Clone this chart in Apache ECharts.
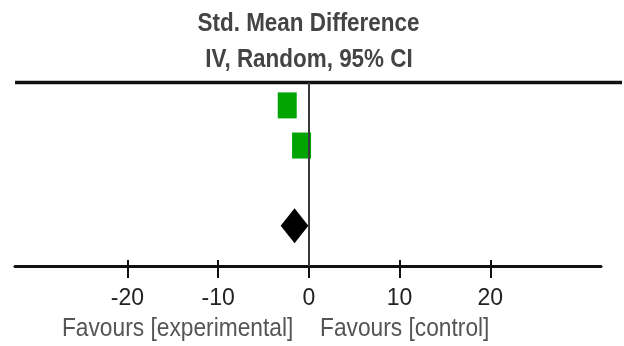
<!DOCTYPE html>
<html>
<head>
<meta charset="utf-8">
<script src="https://cdn.jsdelivr.net/npm/echarts@6/dist/echarts.min.js"></script>
<style>
  html, body { margin: 0; padding: 0; background: #ffffff; }
  #chart { width: 624px; height: 346px; }
</style>
</head>
<body>
<div id="chart"></div>
<script>
// Forest plot: standardised mean difference, random effects
const studyRows = [1, 2];
const studySmd = [-2.39, -0.81];
const pooledRow = 4;
const pooledSmd = -1.58;
const pooledLower = -3.11;
const pooledUpper = -0.06;
const tickValues = [-20, -10, 0, 10, 20];
const titleLines = ['Std. Mean Difference', 'IV, Random, 95% CI'];
const favourLabels = ['Favours [experimental]', 'Favours [control]'];

const FONT = '"Liberation Sans", Arial, Helvetica, sans-serif';
const X_MIN = -32.4, X_MAX = 32.2;

const chart = echarts.init(document.getElementById('chart'));

const studyPoints = studySmd.map((v, i) => [v, studyRows[i]]);

chart.setOption({
  animation: false,
  backgroundColor: '#ffffff',
  grid: { left: 15, right: 23, top: 82.5, bottom: 80, containLabel: false },
  xAxis: [
    {
      type: 'value', position: 'bottom', min: X_MIN, max: X_MAX,
      axisLine: { show: true, onZero: false, lineStyle: { color: '#111', width: 3 } },
      axisTick: { show: true, customValues: tickValues, length: 12, lineStyle: { color: '#111', width: 2 } },
      axisLabel: { show: true, customValues: tickValues, fontSize: 23, color: '#222', margin: 21, fontFamily: FONT },
      splitLine: { show: false }
    },
    {
      type: 'value', position: 'bottom', min: X_MIN, max: X_MAX,
      axisLine: { show: false },
      axisTick: { show: true, inside: true, customValues: tickValues, length: 6, lineStyle: { color: '#111', width: 2 } },
      axisLabel: { show: false },
      splitLine: { show: false }
    }
  ],
  yAxis: {
    type: 'value', inverse: true, min: 0.43, max: 5, show: false,
    splitLine: { show: false }
  },
  graphic: [
    { type: 'line', shape: { x1: 15, y1: 82.5, x2: 622, y2: 82.5 }, style: { stroke: '#111', lineWidth: 3.5 } },
    { type: 'text', x: 308.5, y: 23.5, scaleX: 0.88,
      style: { text: titleLines[0], fontSize: 25.5, fontWeight: 'bold', fontFamily: FONT, fill: '#444', align: 'center', verticalAlign: 'middle' } },
    { type: 'text', x: 309, y: 59.5, scaleX: 0.88,
      style: { text: titleLines[1], fontSize: 25.5, fontWeight: 'bold', fontFamily: FONT, fill: '#444', align: 'center', verticalAlign: 'middle' } },
    { type: 'text', x: 293.3, y: 329.5, scaleX: 0.91,
      style: { text: favourLabels[0], fontSize: 25, fontFamily: FONT, fill: '#555', align: 'right', verticalAlign: 'middle' } },
    { type: 'text', x: 320, y: 329.5, scaleX: 0.91,
      style: { text: favourLabels[1], fontSize: 25, fontFamily: FONT, fill: '#555', align: 'left', verticalAlign: 'middle' } }
  ],
  series: [
    {
      type: 'scatter', xAxisIndex: 0, yAxisIndex: 0,
      data: studyPoints,
      symbol: 'rect', symbolSize: [19, 26],
      itemStyle: { color: '#00a400', opacity: 1 },
      markLine: {
        silent: true, symbol: ['none', 'none'], label: { show: false },
        lineStyle: { color: '#3a3a3a', width: 2, type: 'solid' },
        data: [{ xAxis: 0 }]
      },
      z: 3
    },
    {
      type: 'custom', xAxisIndex: 0, yAxisIndex: 0,
      data: [[pooledLower, pooledSmd, pooledUpper, pooledRow]],
      renderItem: function (params, api) {
        const row = api.value(3);
        const left = api.coord([api.value(0), row]);
        const mid = api.coord([api.value(1), row]);
        const right = api.coord([api.value(2), row]);
        const h = 17.5;
        return {
          type: 'polygon',
          shape: { points: [left, [mid[0], mid[1] - h], right, [mid[0], mid[1] + h]] },
          style: { fill: '#000000' }
        };
      },
      z: 3
    }
  ]
});
</script>
</body>
</html>
